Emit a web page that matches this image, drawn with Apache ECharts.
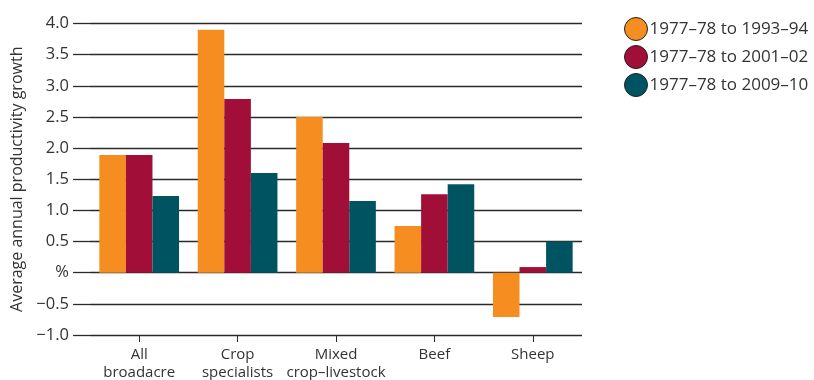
<!DOCTYPE html>
<html>
<head>
<meta charset="utf-8">
<script src="https://cdn.jsdelivr.net/npm/echarts@6/dist/echarts.min.js"></script>
<style>
  html, body { margin: 0; padding: 0; background: #fff; }
  #chart { width: 814px; height: 380px; }
</style>
</head>
<body>
<div id="chart"></div>
<script>
// Farm types along the x axis
const categories = ['All\nbroadacre', 'Crop\nspecialists', 'Mixed\ncrop\u2013livestock', 'Beef', 'Sheep'];

// Average annual productivity growth (%) for each period
const period1Name = '1977\u201378 to 1993\u201394';
const period1 = [1.89, 3.90, 2.50, 0.75, -0.71];
const period2Name = '1977\u201378 to 2001\u201302';
const period2 = [1.89, 2.79, 2.08, 1.26, 0.09];
const period3Name = '1977\u201378 to 2009\u201310';
const period3 = [1.23, 1.60, 1.15, 1.42, 0.50];

// Y axis tick labels (zero is shown as the unit)
const yTicks = {'4': '4.0', '3.5': '3.5', '3': '3.0', '2.5': '2.5', '2': '2.0', '1.5': '1.5',
  '1': '1.0', '0.5': '0.5', '0': '%', '-0.5': '\u22120.5', '-1': '\u22121.0'};

const FONT = '"Open Sans", sans-serif';
const TEXT = '#333';
const LINE = '#2a2a2a';

const chart = echarts.init(document.getElementById('chart'), null, { renderer: 'canvas' });

function bar(name, data, color) {
  return { name, type: 'bar', data, barGap: '0%', barCategoryGap: '19%',
    itemStyle: { color }, emphasis: { disabled: true } };
}

chart.setOption({
  animation: false,
  grid: { left: 90, right: 232, top: 23.5, bottom: 45, outerBoundsMode: 'none', containLabel: false },
  legend: {
    orient: 'vertical', left: 619, top: 12, itemGap: 4,
    icon: 'circle', itemWidth: 23, itemHeight: 23,
    textStyle: { fontFamily: FONT, fontSize: 17, color: TEXT, padding: [0, 0, 0, -3] },
    itemStyle: { borderColor: '#222', borderWidth: 1 },
    data: [period1Name, period2Name, period3Name]
  },
  xAxis: {
    type: 'category', data: categories,
    axisLine: { show: false, onZero: false },
    axisTick: { show: true, alignWithLabel: true, length: 7, lineStyle: { color: LINE } },
    axisLabel: { interval: 0, fontFamily: FONT, fontSize: 15, color: TEXT, lineHeight: 18, margin: 11 }
  },
  yAxis: {
    type: 'value', min: -1, max: 4, interval: 0.5,
    name: 'Average annual productivity growth', nameLocation: 'middle', nameGap: 63,
    nameTextStyle: { fontFamily: FONT, fontSize: 16, color: TEXT },
    axisLine: { show: false },
    axisTick: { show: true, inside: false, length: 17, lineStyle: { color: LINE, width: 1.3 } },
    splitLine: { show: true, lineStyle: { color: LINE, width: 1.3 } },
    axisLabel: { fontFamily: FONT, fontSize: 16.5, color: TEXT, margin: 21,
      formatter: v => yTicks[String(v)] ?? String(v) }
  },
  series: [
    bar(period1Name, period1, '#f58d20'),
    bar(period2Name, period2, '#a10e37'),
    bar(period3Name, period3, '#005462')
  ]
});
</script>
</body>
</html>
